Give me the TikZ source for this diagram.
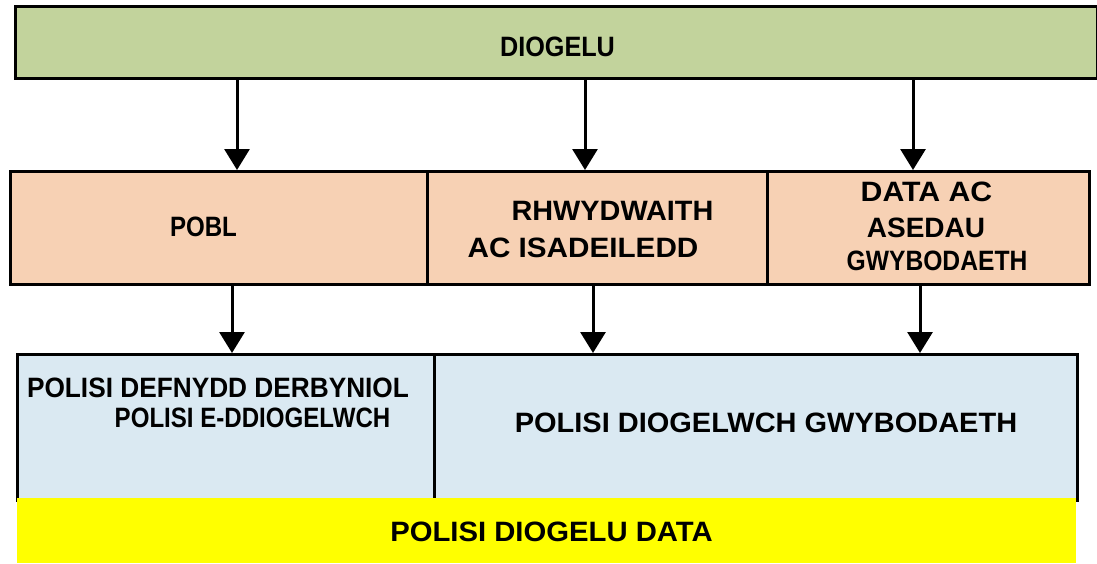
\documentclass[tikz,border=0pt]{standalone}
\usepackage{fontspec}
\setmainfont{Liberation Sans}
\usetikzlibrary{arrows.meta}
\definecolor{boxgreen}{HTML}{C2D39C}
\definecolor{boxpeach}{HTML}{F7D1B4}
\definecolor{boxblue}{HTML}{DAE9F2}
\definecolor{boxyellow}{HTML}{FFFF00}
\begin{document}
\begin{tikzpicture}[x=1pt,y=-1pt,
  box/.style={draw=black, line width=3pt, inner sep=0pt, anchor=north west},
  txt/.style={inner sep=0pt, font=\bfseries\fontsize{28}{34}\selectfont\addfontfeatures{FakeStretch=#1}},
  arr/.style={line width=3pt, -{Triangle[width=25pt,length=21pt]}}]
\useasboundingbox (0,0) rectangle (1097,563);

% top band
\node[box, fill=boxgreen, minimum width=1082pt, minimum height=72pt] (diogelu) at (14,5) {};
\node[txt=0.90] (tdiogelu) at (557.5,47) {DIOGELU};

% middle row
\node[box, fill=boxpeach, minimum width=417pt, minimum height=113pt] (pobl) at (9,170) {};
\node[box, fill=boxpeach, minimum width=340pt, minimum height=113pt] (rhwyd) at (426,170) {};
\node[box, fill=boxpeach, minimum width=322pt, minimum height=113pt] (data) at (766,170) {};
\node[txt=0.86] (tpobl) at (203.5,227) {POBL};
\node[txt=1.03] (trhwyd1) at (612.5,211) {RHWYDWAITH};
\node[txt=1.06] (trhwyd2) at (583,248) {AC ISADEILEDD};
\node[txt=1.08] (tdata1) at (926.5,192) {DATA AC};
\node[txt=1.00] (tdata2) at (926,228) {ASEDAU};
\node[txt=0.88] (tdata3) at (937,261) {GWYBODAETH};

% policy row
\node[box, fill=boxblue, minimum width=417pt, minimum height=146pt] (pol1) at (16,353) {};
\node[box, fill=boxblue, minimum width=643pt, minimum height=146pt] (pol2) at (433,353) {};
\node[txt=0.937] (tpol1a) at (218,388) {POLISI DEFNYDD DERBYNIOL};
\node[txt=0.86] (tpol1b) at (252.5,418) {POLISI E-DDIOGELWCH};
\node[txt=1.035] (tpol2) at (766,423) {POLISI DIOGELWCH GWYBODAETH};

% data protection base
\node[fill=boxyellow, inner sep=0pt, anchor=north west, minimum width=1059pt, minimum height=65pt] (gdpr) at (17,498) {};
\node[txt=1.045] (tgdpr) at (551.5,532) {POLISI DIOGELU DATA};

% connectors
\draw[arr] (diogelu.south -| 237,0) -- (pobl.north -| 237,0);
\draw[arr] (diogelu.south -| 585,0) -- (rhwyd.north -| 585,0);
\draw[arr] (diogelu.south -| 913,0) -- (data.north -| 913,0);
\draw[arr] (pobl.south -| 232,0) -- (pol1.north -| 232,0);
\draw[arr] (rhwyd.south -| 593,0) -- (pol2.north -| 593,0);
\draw[arr] (data.south -| 920,0) -- (pol2.north -| 920,0);
\end{tikzpicture}
\end{document}
